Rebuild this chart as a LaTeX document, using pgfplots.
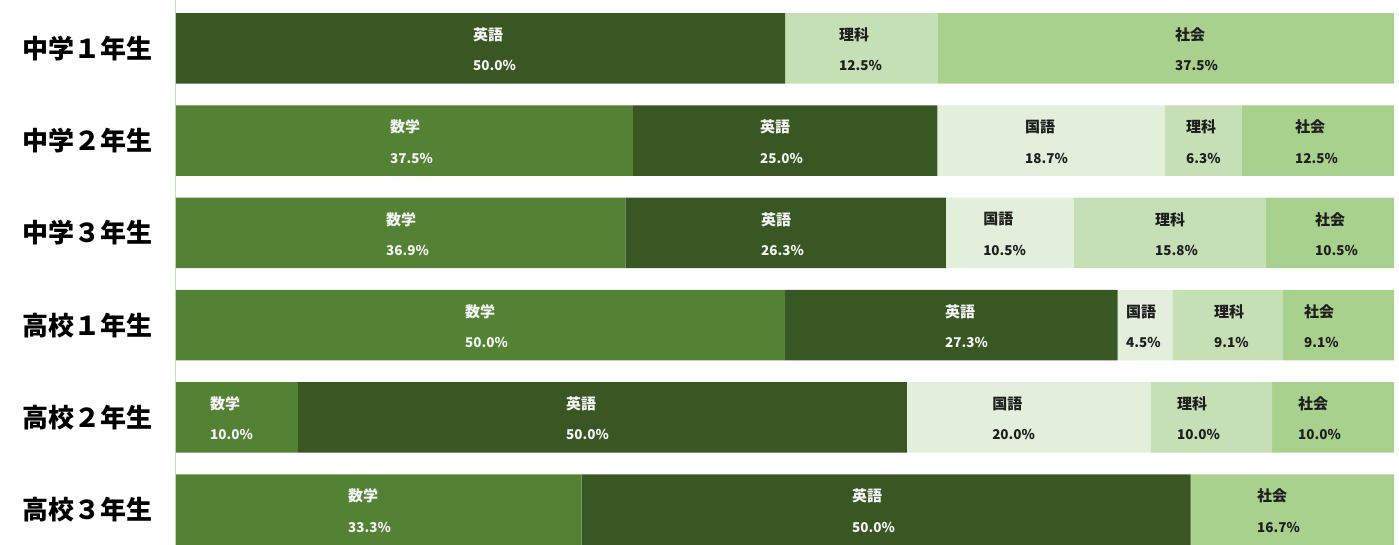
\documentclass[border=0pt]{standalone}
\usepackage{pgfplots}
\pgfplotsset{compat=1.18}
\usepackage{fontspec}
\newfontfamily\jp{Noto Sans CJK JP}
\definecolor{sugaku}{HTML}{548235}
\definecolor{eigo}{HTML}{385723}
\definecolor{kokugo}{HTML}{E2EFDA}
\definecolor{rika}{HTML}{C5E0B4}
\definecolor{shakai}{HTML}{A9D18E}
\definecolor{darktxt}{HTML}{1E1E1E}
\definecolor{lighttxt}{HTML}{F4F4F4}
\pgfplotsset{
  common/.style={
    scale only axis, width=1218pt, height=545pt,
    xmin=0, xmax=100, ymin=-0.524, ymax=5.383, y dir=reverse,
    at={(0,0)}, anchor=south west, clip=false,
  },
  namestyle/.style={draw=none, mark=none, point meta=explicit symbolic, nodes near coords,
    every node near coord/.append style={anchor=west, inner sep=0pt, yshift=13.5pt,
      font=\jp\bfseries\fontsize{15}{15}\selectfont}},
  pctstyle/.style={draw=none, mark=none, point meta=explicit symbolic, nodes near coords,
    every node near coord/.append style={anchor=west, inner sep=0pt, yshift=-17.5pt,
      font=\jp\bfseries\fontsize{13.5}{13.5}\selectfont}},
}
\begin{document}
\begin{tikzpicture}
\useasboundingbox (-176pt,0) rectangle (1223pt,545pt);
\begin{axis}[common,
  xbar stacked, bar width=70.5pt,
  axis x line=none, axis y line*=left,
  y axis line style={draw=rika, line width=1pt},
  ytick={0,1,2,3,4,5},
  yticklabels={中学１年生,中学２年生,中学３年生,高校１年生,高校２年生,高校３年生},
  major tick length=0pt, ytick style={draw=none},
  yticklabel style={inner sep=0pt, xshift=-23pt, font=\jp\bfseries\fontsize{26}{26}\selectfont, text=black},
]
\addplot[fill=sugaku, draw=none] coordinates {(0,0) (37.5,1) (36.9,2) (50,3) (10,4) (33.3,5)};
\addplot[fill=eigo, draw=none] coordinates {(50,0) (25,1) (26.3,2) (27.3,3) (50,4) (50,5)};
\addplot[fill=kokugo, draw=none] coordinates {(0,0) (18.7,1) (10.5,2) (4.5,3) (20,4) (0,5)};
\addplot[fill=rika, draw=none] coordinates {(12.5,0) (6.3,1) (15.8,2) (9.1,3) (10,4) (0,5)};
\addplot[fill=shakai, draw=none] coordinates {(37.5,0) (12.5,1) (10.5,2) (9.1,3) (10,4) (16.7,5)};
\end{axis}
\begin{axis}[common, hide axis]
\addplot[namestyle, every node near coord/.append style={text=lighttxt}] coordinates {
 (24.38,0)[英語] (17.57,1)[数学] (47.95,1)[英語] (17.24,2)[数学] (48.03,2)[英語]
 (23.73,3)[数学] (63.14,3)[英語] (2.79,4)[数学] (32.02,4)[英語] (14.12,5)[数学] (55.50,5)[英語]};
\addplot[pctstyle, every node near coord/.append style={text=lighttxt}] coordinates {
 (24.38,0)[50.0\%] (17.57,1)[37.5\%] (47.95,1)[25.0\%] (17.24,2)[36.9\%] (48.03,2)[26.3\%]
 (23.73,3)[50.0\%] (63.14,3)[27.3\%] (2.79,4)[10.0\%] (32.02,4)[50.0\%] (14.12,5)[33.3\%] (55.50,5)[50.0\%]};
\addplot[namestyle, every node near coord/.append style={text=darktxt}] coordinates {
 (54.43,0)[理科] (82.02,0)[社会] (69.70,1)[国語] (82.92,1)[理科] (91.87,1)[社会]
 (66.26,2)[国語] (80.38,2)[理科] (93.51,2)[社会] (78.0,3)[国語] (85.22,3)[理科] (92.61,3)[社会]
 (67.0,4)[国語] (82.18,4)[理科] (92.12,4)[社会] (88.75,5)[社会]};
\addplot[pctstyle, every node near coord/.append style={text=darktxt}] coordinates {
 (54.43,0)[12.5\%] (82.02,0)[37.5\%] (69.70,1)[18.7\%] (82.92,1)[6.3\%] (91.87,1)[12.5\%]
 (66.26,2)[10.5\%] (80.38,2)[15.8\%] (93.51,2)[10.5\%] (78.0,3)[4.5\%] (85.22,3)[9.1\%] (92.61,3)[9.1\%]
 (67.0,4)[20.0\%] (82.18,4)[10.0\%] (92.12,4)[10.0\%] (88.75,5)[16.7\%]};
\end{axis}
\end{tikzpicture}
\end{document}
